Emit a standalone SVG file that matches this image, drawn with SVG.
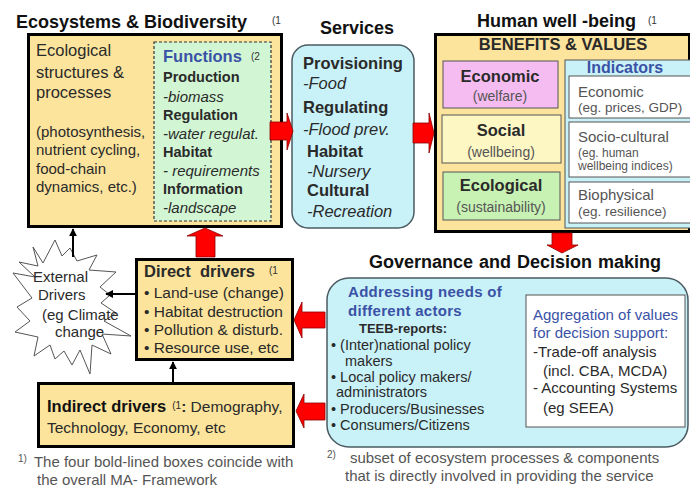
<svg xmlns="http://www.w3.org/2000/svg" width="690" height="488" viewBox="0 0 690 488">
<style>
text{font-family:"Liberation Sans",Arial,Helvetica,sans-serif;fill:#2a2a2a}
.t{font-size:18px;font-weight:bold;fill:#111}
.sup{font-size:10px;fill:#333}
.b{font-weight:bold}
.i{font-style:italic}
.blue{fill:#3a52a6}
.thick{fill:#fce49c;stroke:#000;stroke-width:3}
.cyan{fill:#c9f1f8;stroke:#4b5b62;stroke-width:1.5}
.thin{stroke:#555;stroke-width:1}
.red{fill:#f00;stroke:#8a0000;stroke-width:0.8}
.blk{stroke:#000;stroke-width:2;fill:none}
.grey{fill:#555}
</style>
<defs>
<marker id="ah" viewBox="0 0 10 10" refX="9" refY="5" markerWidth="4" markerHeight="4" orient="auto-start-reverse">
<path d="M0,0 L10,5 L0,10 z" fill="#000"/>
</marker>
</defs>

<rect width="690" height="488" fill="#fff"/>

<g id="ecosystems">
<text class="t" x="16" y="28">Ecosystems &amp; Biodiversity</text>
<text class="sup" x="272" y="24">(1</text>
<rect class="thick" x="28.5" y="34.5" width="253" height="192"/>
<g font-size="16.5px">
<text x="36" y="56">Ecological</text>
<text x="36" y="78">structures &amp;</text>
<text x="36" y="98">processes</text>
</g>
<g font-size="15px">
<text x="36" y="137">(photosynthesis,</text>
<text x="36" y="155">nutrient cycling,</text>
<text x="36" y="174">food-chain</text>
<text x="36" y="192">dynamics, etc.)</text>
</g>
</g>

<g id="functions">
<rect x="154" y="42" width="117" height="179" fill="#d2f6d4" stroke="#333" stroke-width="1.2" stroke-dasharray="3,2"/>
<text class="b blue" x="163" y="62" font-size="16.5px">Functions</text>
<text class="sup" x="251" y="60">(2</text>
<g font-size="15px">
<text class="b" x="163" y="82" font-size="14.5px">Production</text>
<text class="i" x="163" y="102">-biomass</text>
<text class="b" x="163" y="120" font-size="14.5px">Regulation</text>
<text class="i" x="163" y="139">-water regulat.</text>
<text class="b" x="163" y="157" font-size="14.5px">Habitat</text>
<text class="i" x="163" y="176">- requirements</text>
<text class="b" x="163" y="194" font-size="14.5px">Information</text>
<text class="i" x="163" y="213">-landscape</text>
</g>
</g>

<g id="services">
<text class="t" x="357" y="34" text-anchor="middle">Services</text>
<rect class="cyan" x="292" y="45" width="122" height="183" rx="16"/>
<g font-size="16.5px">
<text class="b" x="303" y="69">Provisioning</text>
<text class="i" x="303" y="89">-Food</text>
<text class="b" x="303" y="113">Regulating</text>
<text class="i" x="303" y="135">-Flood prev.</text>
<text class="b" x="307" y="157">Habitat</text>
<text class="i" x="307" y="177">-Nursery</text>
<text class="b" x="307" y="196">Cultural</text>
<text class="i" x="307" y="217">-Recreation</text>
</g>
</g>

<g id="human-wellbeing">
<text class="t" x="477" y="27">Human well -being</text>
<text class="sup" x="648" y="24">(1</text>
<rect class="thick" x="435.5" y="34.5" width="254" height="197"/>
<text class="b" x="563" y="50" text-anchor="middle" font-size="16.5px" fill="#111">BENEFITS &amp; VALUES</text>
</g>

<g id="economic">
<rect class="thin" x="443" y="61" width="115" height="47" fill="#f5bcf1"/>
<text class="b" x="500" y="82" text-anchor="middle" font-size="16.5px">Economic</text>
<text class="grey" x="500" y="101" text-anchor="middle" font-size="14px">(welfare)</text>
</g>
<g id="social">
<rect class="thin" x="442" y="115" width="119" height="48" fill="#fdf7c4"/>
<text class="b" x="501" y="136" text-anchor="middle" font-size="16.5px">Social</text>
<text class="grey" x="501" y="157" text-anchor="middle" font-size="14px">(wellbeing)</text>
</g>
<g id="ecological">
<rect class="thin" x="443" y="172" width="117" height="48" fill="#c8f2b4"/>
<text class="b" x="501" y="191" text-anchor="middle" font-size="16.5px">Ecological</text>
<text class="grey" x="501" y="212" text-anchor="middle" font-size="14px">(sustainability)</text>
</g>

<g id="indicators">
<rect class="thin" x="565" y="60" width="130" height="168" fill="#c9f1f8"/>
<text class="b blue" x="625" y="73" text-anchor="middle" font-size="16px">Indicators</text>
<rect class="thin" x="569" y="76" width="130" height="42" fill="#fff"/>
<rect class="thin" x="569" y="122" width="130" height="55" fill="#fff"/>
<rect class="thin" x="569" y="182" width="130" height="41" fill="#fff"/>
<text class="grey" x="578" y="97" font-size="15px">Economic</text>
<text class="grey" x="578" y="112" font-size="13.5px">(eg. prices, GDP)</text>
<text class="grey" x="578" y="142" font-size="15px">Socio-cultural</text>
<text class="grey" x="578" y="157" font-size="12px">(eg. human</text>
<text class="grey" x="578" y="170" font-size="12px">wellbeing indices)</text>
<text class="grey" x="578" y="200" font-size="15px">Biophysical</text>
<text class="grey" x="578" y="216" font-size="13.5px">(eg. resilience)</text>
</g>

<g id="governance">
<text class="t" x="515" y="268" text-anchor="middle" font-size="16.2px" word-spacing="1">Governance and Decision making</text>
<rect class="cyan" x="327" y="278" width="361" height="169" rx="22"/>
<text class="b blue" x="348" y="297" font-size="15px" letter-spacing="0.3">Addressing needs of</text>
<text class="b blue" x="348" y="316" font-size="15px" letter-spacing="0.3">different actors</text>
<text class="b" x="359" y="333" font-size="13px">TEEB-reports:</text>
<g font-size="14.5px">
<text x="331" y="350">• (Inter)national policy</text>
<text x="345" y="366">makers</text>
<text x="331" y="382">• Local policy makers/</text>
<text x="336" y="397">administrators</text>
<text x="331" y="414">• Producers/Businesses</text>
<text x="331" y="430">• Consumers/Citizens</text>
</g>
<rect class="thin" x="526" y="295" width="159" height="132" fill="#fff"/>
<g font-size="15px">
<text class="blue" x="533" y="320" fill="#4858a8">Aggregation of values</text>
<text class="blue" x="533" y="338">for decision support:</text>
<text x="533" y="357">-Trade-off analysis</text>
<text x="543" y="376">(incl. CBA, MCDA)</text>
<text x="533" y="393">- Accounting Systems</text>
<text x="543" y="413">(eg SEEA)</text>
</g>
</g>

<g id="direct-drivers">
<rect class="thick" x="136.5" y="259.5" width="156" height="100"/>
<text class="b" x="144" y="277" font-size="16.5px" fill="#111" xml:space="preserve">Direct  drivers</text>
<text class="sup" x="269" y="274">(1</text>
<g font-size="15.5px">
<text x="144" y="298">• Land-use (change)</text>
<text x="144" y="317">• Habitat destruction</text>
<text x="144" y="335">• Pollution &amp; disturb.</text>
<text x="144" y="353">• Resource use, etc</text>
</g>
</g>

<g id="indirect-drivers">
<rect class="thick" x="38.5" y="383.5" width="255" height="63"/>
<text x="47" y="412" font-size="15.5px"><tspan class="b" font-size="16.5px" fill="#111">Indirect drivers</tspan><tspan font-size="10px" dx="6" dy="-3">(1</tspan><tspan class="b" dy="3">: </tspan><tspan>Demography,</tspan></text>
<text x="47" y="433" font-size="15.5px">Technology, Economy, etc</text>
</g>

<g id="external-drivers">
<path d="M33,247 L43,263 L55,240 L62,256 L70,248 L77,261 L97,255 L89,270 L116,272 L100,287 L110,295 L101,303 L116,313 L104,321 L131,336 L102,334 L111,354 L92,345 L90,374 L80,350 L72,365 L64,351 L55,359 L50,345 L34,356 L38,337 L15,332 L30,321 L17,307 L32,298 L13,273 L35,277 L19,262 L38,266 Z" fill="#fff" stroke="#555" stroke-width="1"/>
<g font-size="15px" class="grey">
<text x="33" y="282">External</text>
<text x="38" y="300">Drivers</text>
<text x="42" y="320">(eg Climate</text>
<text x="55" y="337">change</text>
</g>
</g>

<g id="connectors">
<polygon class="red" points="270,122 287,122 287,113 293,131 287,150 287,140 270,140"/>
<polygon class="red" points="413,123 429,123 429,113 434,133 429,153 429,143 413,143"/>
<polygon class="red" points="196,257 196,236 187,236 205,228 223,236 215,236 215,257"/>
<polygon class="red" points="552,233 572,233 572,245 578,245 562,253 547,245 552,245"/>
<polygon class="red" points="325,312 302,312 302,302 294,320 302,338 302,328 325,328"/>
<polygon class="red" points="325,403 304,403 304,394 296,411 304,428 304,420 325,420"/>
<line class="blk" x1="173" y1="382" x2="173" y2="362" marker-end="url(#ah)"/>
<line class="blk" x1="135" y1="294" x2="106" y2="294" marker-end="url(#ah)"/>
<line class="blk" x1="73" y1="257" x2="73" y2="229" marker-end="url(#ah)"/>
</g>

<g id="footnotes" font-size="15px">
<text x="18" y="467" class="grey"><tspan font-size="10px" dy="-5">1)</tspan><tspan dx="7" dy="5">The four bold-lined boxes coincide with</tspan></text>
<text x="37" y="485" class="grey">the overall MA- Framework</text>
<text x="327" y="463" class="grey"><tspan font-size="10px" dy="-5">2)</tspan><tspan dx="14" dy="5">subset of ecosystem processes &amp; components</tspan></text>
<text x="345" y="481" class="grey">that is directly involved in providing the service</text>
</g>
</svg>
